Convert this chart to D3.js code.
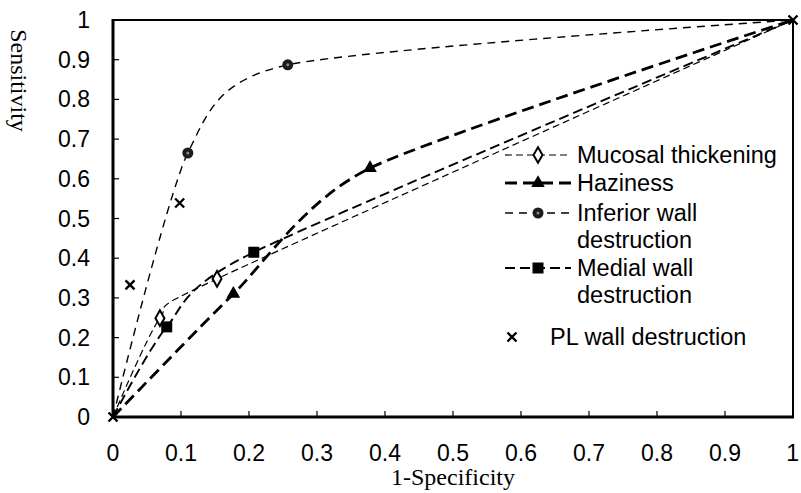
<!DOCTYPE html>
<html>
<head>
<meta charset="utf-8">
<script src="https://cdn.jsdelivr.net/npm/d3@7"></script>
<style>
  html, body { margin: 0; padding: 0; background: #ffffff; }
  svg { display: block; }
  .tick-label { font-family: "Liberation Sans", Arial, sans-serif; font-size: 23px; fill: #000; }
  .axis-title { font-family: "Liberation Serif", "Times New Roman", serif; font-size: 24px; fill: #000; }
  .legend-text { font-family: "Liberation Sans", Arial, sans-serif; font-size: 23.5px; fill: #000; }
</style>
</head>
<body>
<div id="chart"></div>
<script>
// ---------------------------------------------------------------------------//
// Data
// ---------------------------------------------------------------------------//
const xTicks = [0, 0.1, 0.2, 0.3, 0.4, 0.5, 0.6, 0.7, 0.8, 0.9, 1];
const yTicks = [0, 0.1, 0.2, 0.3, 0.4, 0.5, 0.6, 0.7, 0.8, 0.9, 1];

// 1-Specificity / Sensitivity pairs per sign; ends (0,0) and (1,1) anchor the curves
const mucosalX = [0, 0.069, 0.153, 1];
const mucosalY = [0, 0.249, 0.348, 1];

const hazinessX = [0, 0.177, 0.378, 1];
const hazinessY = [0, 0.31, 0.627, 1];

const inferiorX = [0, 0.11, 0.257, 1];
const inferiorY = [0, 0.665, 0.887, 1];

const medialX = [0, 0.079, 0.207, 1];
const medialY = [0, 0.227, 0.415, 1];

// PL wall destruction: points only, no line
const plX = [0, 0.025, 0.098, 1];
const plY = [0, 0.333, 0.539, 1];

const seriesNames = [
  ["Mucosal thickening"],
  ["Haziness"],
  ["Inferior wall", "destruction"],
  ["Medial wall", "destruction"],
  ["PL wall destruction"],
];

// ---------------------------------------------------------------------------//
// Layout
// ---------------------------------------------------------------------------//
const width = 801;
const height = 493;
const margin = { top: 20, right: 8, bottom: 76, left: 113 };
const innerWidth = width - margin.left - margin.right;
const innerHeight = height - margin.top - margin.bottom;

const zip = (xs, ys) => xs.map((x, i) => ({ x, y: ys[i] }));

const series = [
  { name: seriesNames[0], pts: zip(mucosalX, mucosalY), marker: "diamond", width: 1.2, dash: "7,4", line: true, ends: false },
  { name: seriesNames[1], pts: zip(hazinessX, hazinessY), marker: "triangle", width: 2.8, dash: "12,6", line: true, ends: false },
  { name: seriesNames[2], pts: zip(inferiorX, inferiorY), marker: "circle", width: 1.4, dash: "8,6", line: true, ends: false },
  { name: seriesNames[3], pts: zip(medialX, medialY), marker: "square", width: 1.9, dash: "10,5", line: true, ends: false },
  { name: seriesNames[4], pts: zip(plX, plY), marker: "cross", width: 0, dash: null, line: false, ends: true },
];

// x and y scales map straight to page pixels
const x = d3.scaleLinear().domain([0, 1]).range([margin.left, margin.left + innerWidth]);
const y = d3.scaleLinear().domain([0, 1]).range([margin.top + innerHeight, margin.top]);

const svg = d3.select("#chart")
  .append("svg")
  .attr("width", width)
  .attr("height", height);

// ---------------------------------------------------------------------------//
// Markers
// ---------------------------------------------------------------------------//
function drawMarker(sel, type) {
  if (type === "diamond") {
    sel.append("path")
      .attr("d", d3.symbol(d3.symbolDiamond, 70)())
      .attr("fill", "#fff")
      .attr("stroke", "#000")
      .attr("stroke-width", 2);
  } else if (type === "triangle") {
    sel.append("path")
      .attr("d", d3.symbol(d3.symbolTriangle, 80)())
      .attr("fill", "#000");
  } else if (type === "circle") {
    sel.append("circle").attr("r", 5.5).attr("fill", "#1c1c1c");
    sel.append("circle").attr("r", 1.5).attr("fill", "#8a8a8a");
  } else if (type === "square") {
    sel.append("rect")
      .attr("x", -5.5).attr("y", -5.5)
      .attr("width", 11).attr("height", 11)
      .attr("fill", "#000");
  } else if (type === "cross") {
    sel.append("path")
      .attr("d", "M-4.5,-4.5L4.5,4.5M-4.5,4.5L4.5,-4.5")
      .attr("stroke", "#000")
      .attr("stroke-width", 2.4)
      .attr("fill", "none");
  }
}

// ---------------------------------------------------------------------------//
// Axes and frame
// ---------------------------------------------------------------------------//
const x0 = margin.left;
const x1 = margin.left + innerWidth;
const y0 = margin.top + innerHeight;
const y1 = margin.top;

// top and right frame lines
svg.append("line")
  .attr("x1", x0).attr("x2", x1).attr("y1", y1).attr("y2", y1)
  .attr("stroke", "#000").attr("stroke-width", 2);
svg.append("line")
  .attr("x1", x1).attr("x2", x1).attr("y1", y1).attr("y2", y0)
  .attr("stroke", "#000").attr("stroke-width", 2);

// axis lines with inward ticks
svg.append("line")
  .attr("x1", x0).attr("x2", x0).attr("y1", y1 - 1).attr("y2", y0)
  .attr("stroke", "#000").attr("stroke-width", 3);
svg.append("line")
  .attr("x1", x0).attr("x2", x1 + 1).attr("y1", y0).attr("y2", y0)
  .attr("stroke", "#000").attr("stroke-width", 3);

svg.selectAll("line.ytick")
  .data(yTicks.slice(1, -1))
  .join("line")
  .attr("class", "ytick")
  .attr("x1", x0).attr("x2", x0 + 6)
  .attr("y1", (d) => y(d)).attr("y2", (d) => y(d))
  .attr("stroke", "#000").attr("stroke-width", 1.2);

svg.selectAll("line.xtick")
  .data(xTicks.slice(1, -1))
  .join("line")
  .attr("class", "xtick")
  .attr("x1", (d) => x(d)).attr("x2", (d) => x(d))
  .attr("y1", y0).attr("y2", y0 - 6)
  .attr("stroke", "#000").attr("stroke-width", 1.2);

svg.selectAll("text.ylab")
  .data(yTicks)
  .join("text")
  .attr("class", "ylab tick-label")
  .attr("x", x0 - 23)
  .attr("y", (d) => y(d) + 8)
  .attr("text-anchor", "end")
  .text((d) => String(d));

svg.selectAll("text.xlab")
  .data(xTicks)
  .join("text")
  .attr("class", "xlab tick-label")
  .attr("x", (d) => (d === 1 ? x(d) + 6 : x(d)))
  .attr("y", 461)
  .attr("text-anchor", (d) => (d === 1 ? "end" : "middle"))
  .text((d) => String(d));

// axis titles
svg.append("text")
  .attr("class", "axis-title")
  .attr("x", 11)
  .attr("y", 80.5)
  .attr("transform", "rotate(90,11,80.5)")
  .attr("text-anchor", "middle")
  .text("Sensitivity");

svg.append("text")
  .attr("class", "axis-title")
  .attr("x", x(0.5))
  .attr("y", 485)
  .attr("text-anchor", "middle")
  .text("1-Specificity");

// ---------------------------------------------------------------------------//
// Curves
// ---------------------------------------------------------------------------//
const line = d3.line()
  .x((d) => x(d.x))
  .y((d) => y(d.y))
  .curve(d3.curveCardinal.tension(0.3));

series.filter((s) => s.line).forEach((s) => {
  svg.append("path")
    .datum(s.pts)
    .attr("d", line)
    .attr("fill", "none")
    .attr("stroke", "#000")
    .attr("stroke-width", s.width)
    .attr("stroke-dasharray", s.dash);
});

series.forEach((s) => {
  const pts = s.ends ? s.pts : s.pts.slice(1, -1);
  svg.selectAll(null)
    .data(pts)
    .join("g")
    .attr("transform", (d) => `translate(${x(d.x)},${y(d.y)})`)
    .each(function () { drawMarker(d3.select(this), s.marker); });
});

// ---------------------------------------------------------------------------//
// Legend
// ---------------------------------------------------------------------------//
const legendRows = [155, 183, 213, 268, 337];
const legendLineGap = 27;

series.forEach((s, i) => {
  const ry = legendRows[i];
  if (s.line) {
    svg.append("line")
      .attr("x1", 505).attr("x2", 571)
      .attr("y1", ry).attr("y2", ry)
      .attr("stroke", "#000")
      .attr("stroke-width", s.width)
      .attr("stroke-dasharray", s.dash);
    drawMarker(svg.append("g").attr("transform", `translate(538,${ry})`), s.marker);
  } else {
    drawMarker(svg.append("g").attr("transform", `translate(512,${ry})`), s.marker);
  }
  const tx = s.line ? 577 : 550;
  s.name.forEach((part, j) => {
    svg.append("text")
      .attr("class", "legend-text")
      .attr("x", tx)
      .attr("y", ry + j * legendLineGap + 8)
      .text(part);
  });
});
</script>
</body>
</html>
